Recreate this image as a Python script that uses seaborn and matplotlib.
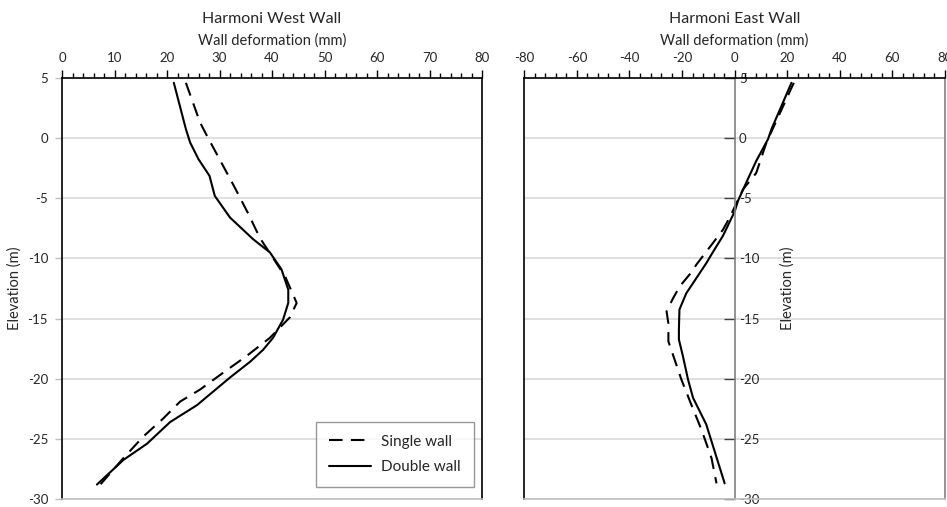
import matplotlib
matplotlib.use("Agg")
import matplotlib.pyplot as plt
from matplotlib.ticker import MultipleLocator
import seaborn as sns
import pandas as pd

# ---------------- data ----------------
west_single_elev = [4.6, 1.3, 0.2, -4.1, -6.3, -8.3, -11.5, -13.7, -14.9, -16.6, -18.1,
                    -19.5, -20.9, -21.9, -23.3, -24.8, -26.6, -28.8]
west_single_def = [23.6, 26.3, 27.6, 32.9, 35.5, 37.7, 42.5, 44.7, 43.4, 39.6, 35.2,
                   30.7, 26.3, 22.5, 19.3, 15.5, 11.7, 7.3]
west_double_elev = [4.6, 0.75, -0.36, -1.75, -3.14, -4.8, -6.6, -8.4, -9.5, -10.9, -12.6,
                    -13.7, -15.1, -16.6, -17.6, -18.6, -19.9, -22.2, -23.6, -25.4, -26.75, -28.8]
west_double_def = [21.3, 23.6, 24.4, 26.0, 28.1, 29.1, 32.0, 36.4, 39.6, 41.8, 43.1,
                   43.1, 42.1, 40.2, 38.3, 35.8, 32.0, 25.7, 20.6, 16.2, 11.7, 6.65]
east_single_elev = [4.6, -0.36, -2.9, -4.25, -6.6, -7.6, -8.7, -10.5, -11.3, -12.3, -13.3,
                    -14.4, -15.4, -16.9, -20.1, -22.2, -24.25, -26.6, -28.7]
east_single_def = [22.5, 12.1, 8.2, 3.2, -1.9, -4.4, -8.2, -14.5, -17.0, -20.8, -23.4,
                   -25.9, -25.2, -25.2, -20.2, -16.4, -12.6, -8.8, -6.9]
east_double_elev = [4.6, 0.75, -0.08, -1.9, -3.7, -5.2, -6.1, -8.1, -9.7, -10.4, -12.9,
                    -14.25, -15.9, -16.75, -18.1, -20.1, -21.6, -23.8, -28.7]
east_double_def = [21.6, 14.0, 12.7, 8.2, 4.4, 1.3, 0.0, -4.4, -8.9, -10.8, -18.4,
                   -21.0, -21.2, -21.2, -19.7, -17.7, -15.8, -10.8, -3.8]

series_names = ["Single wall", "Double wall"]
titles = ["Harmoni West Wall", "Harmoni East Wall"]
xlabel = "Wall deformation (mm)"
ylabel = "Elevation (m)"
y_ticks = [5, 0, -5, -10, -15, -20, -25, -30]

west = {"Single wall": pd.DataFrame({"def": west_single_def, "elev": west_single_elev}),
        "Double wall": pd.DataFrame({"def": west_double_def, "elev": west_double_elev})}
east = {"Single wall": pd.DataFrame({"def": east_single_def, "elev": east_single_elev}),
        "Double wall": pd.DataFrame({"def": east_double_def, "elev": east_double_elev})}

# ---------------- style ----------------
sns.set_theme(style="white")
plt.rcParams["font.family"] = ["Lato", "DejaVu Sans"]
plt.rcParams["text.color"] = "#262626"
plt.rcParams["axes.unicode_minus"] = False

W, H = 947, 507
fig = plt.figure(figsize=(W / 100, H / 100), dpi=100)
ax1 = fig.add_axes([62 / W, 8 / H, 420 / W, 421 / H])
ax2 = fig.add_axes([524.3 / W, 8 / H, 420.7 / W, 421 / H])

styles = {"Single wall": dict(linestyle=(0, (6.5, 4))), "Double wall": dict(linestyle="-")}

for ax, data in ((ax1, west), (ax2, east)):
    for name in series_names:
        sns.lineplot(data=data[name], x="def", y="elev", sort=False, estimator=None,
                     color="black", linewidth=1.5, label=name, ax=ax, **styles[name])

grid_c = "#d9d9d9"

def common(ax, xmin, xmax, major, minor, title):
    ax.set_xlim(xmin, xmax)
    ax.set_ylim(-30, 5)
    ax.xaxis.set_major_locator(MultipleLocator(major))
    ax.xaxis.set_minor_locator(MultipleLocator(minor))
    ax.xaxis.tick_top()
    ax.xaxis.set_label_position("top")
    ax.set_xlabel(xlabel, fontsize=10.5, labelpad=5, color="#262626")
    ax.set_title(title, fontsize=11.5, pad=8, color="#262626")
    ax.tick_params(axis="x", which="major", direction="out", length=6, width=1,
                   color="black", labelsize=9.5, pad=4, top=True, bottom=False)
    ax.tick_params(axis="x", which="minor", direction="out", length=3.5, width=1,
                   color="black", top=True, bottom=False)
    ax.set_yticks(y_ticks)
    ax.yaxis.grid(True, color=grid_c, linewidth=1.2)
    ax.xaxis.grid(False)
    ax.spines["top"].set_color("black")
    ax.spines["top"].set_linewidth(1.2)
    ax.spines["bottom"].set_color("#bfbfbf")
    ax.spines["bottom"].set_linewidth(1.2)

common(ax1, 0, 80, 10, 2, titles[0])
common(ax2, -80, 80, 20, 4, titles[1])

# West: y axis on the left
ax1.spines["left"].set_color("black")
ax1.spines["left"].set_linewidth(1.2)
ax1.spines["right"].set_color("black")
ax1.spines["right"].set_linewidth(1.2)
ax1.tick_params(axis="y", direction="out", length=5, width=1, color="#bfbfbf",
                labelsize=9.5, pad=5, left=True, right=False)
ax1.set_ylabel(ylabel, fontsize=10.5, labelpad=4, color="#262626")

# East: y axis crossing at x = 0
ax2.spines["left"].set_color("black")
ax2.spines["left"].set_linewidth(1.2)
ax2.spines["right"].set_position(("data", 0))
ax2.spines["right"].set_color("#808080")
ax2.spines["right"].set_linewidth(1.2)
ax2.yaxis.tick_right()
ax2.yaxis.set_label_position("right")
ax2.tick_params(axis="y", direction="in", length=8, width=1, color="#404040",
                labelsize=9.5, pad=3, left=False, right=True)
ax2.set_ylabel(ylabel, fontsize=10.5, color="#262626")
ax2.yaxis.set_label_coords((780 - 524.3) / 420.7, 0.5)
ax2.axvline(80, color="#808080", linewidth=1.2, clip_on=False)

ax2.get_legend().remove()
leg = ax1.legend(loc="lower right", bbox_to_anchor=((474 - 62) / 420, (499 - 487) / 421),
                 borderaxespad=0, frameon=True,
                 fontsize=11, handlelength=2.8, handletextpad=0.65, borderpad=0.85,
                 labelspacing=0.75, fancybox=False, edgecolor="#7f7f7f")
leg.get_frame().set_linewidth(1.0)

fig.savefig("out.png", dpi=100)
